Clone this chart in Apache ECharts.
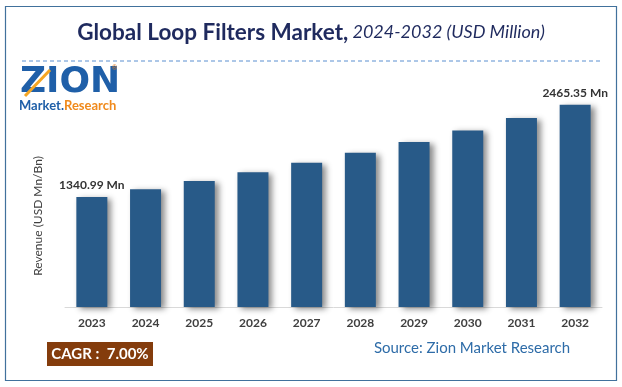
<!DOCTYPE html>
<html><head><meta charset="utf-8">
<script src="https://cdn.jsdelivr.net/npm/echarts@6/dist/echarts.min.js"></script>
<style>html,body{margin:0;padding:0;background:#fff}#c{width:622px;height:387px}</style>
</head><body><div id="c"></div>
<script>
const years = ['2023','2024','2025','2026','2027','2028','2029','2030','2031','2032'];
const revenue = [1340.99, 1434.86, 1535.30, 1642.77, 1757.77, 1880.81, 2012.47, 2153.34, 2304.07, 2465.35];
const labelledIdx = [0, 9];
const titleMain = 'Global Loop Filters Market,';
const titleSub = ' 2024-2032 (USD Million)';
const yAxisName = 'Revenue (USD Mn/Bn)';
const cagrText = 'CAGR :  7.00%';
const sourceText = 'Source: Zion Market Research';

const F = 'Lato, "Open Sans", sans-serif';
const chart = echarts.init(document.getElementById('c'), null, {renderer:'canvas'});
chart.setOption({
  animation: false,
  backgroundColor: '#fff',
  grid: {left: 65, right: 20, top: 61, bottom: 80},
  xAxis: {
    type: 'category', data: years,
    axisLine: {lineStyle: {color: '#d9d9d9', width: 1}},
    axisTick: {show: false},
    axisLabel: {color: '#404040', fontWeight: 'bold', fontSize: 12, fontFamily: F, margin: 10}
  },
  yAxis: {type: 'value', min: 0, max: 3000, show: false, splitLine: {show: false}},
  series: [{
    type: 'bar', barWidth: 31,
    data: revenue.map((v, i) => ({
      value: v,
      label: {show: labelledIdx.includes(i)}
    })),
    itemStyle: {color: '#285a88', shadowColor: 'rgba(0,0,0,0.45)', shadowBlur: 6, shadowOffsetX: 4, shadowOffsetY: 2},
    label: {position: 'top', distance: 6, color: '#333', fontWeight: 'bold', fontSize: 12, fontFamily: F,
      formatter: p => p.value.toFixed(2) + ' Mn'}
  }],
  graphic: [
    {type: 'rect', shape: {x: 5.5, y: 6.5, width: 611, height: 374}, style: {fill: 'none', stroke: '#41719c', lineWidth: 1.2}, z: 0},
    {type: 'text', left: 'center', top: 21, style: {
      rich: {
        a: {fontSize: 22.5, fontWeight: 'bold', fill: '#1f2a5e', fontFamily: F},
        b: {fontSize: 18, fontStyle: 'italic', fill: '#1f2a5e', fontFamily: F}
      },
      text: '{a|' + titleMain + '}{b|' + titleSub + '}'
    }},
    {type: 'line', shape: {x1: 22, y1: 61, x2: 600, y2: 61}, style: {stroke: '#5b8fd0', lineWidth: 1, lineDash: [4, 3]}},
    {type: 'text', x: 20, y: 65, style: {text: 'ZION', fontSize: 36, fontWeight: 900, fill: '#1f5fa8', fontFamily: '"DejaVu Sans", sans-serif', letterSpacing: -3}},
    {type: 'line', shape: {x1: 25, y1: 96, x2: 50, y2: 70}, style: {stroke: '#f5a623', lineWidth: 3}},
    {type: 'text', x: 112, y: 65, style: {text: '®', fontSize: 7, fill: '#e07b20'}},
    {type: 'text', x: 19, y: 99, style: {
      rich: {
        m: {fontSize: 13, fontWeight: 'bold', fill: '#1f5fa8', fontFamily: F},
        r: {fontSize: 13, fontWeight: 'bold', fill: '#f08a1c', fontFamily: F}
      },
      text: '{m|Market.}{r|Research}'
    }},
    {type: 'text', x: 38, y: 216, rotation: Math.PI / 2, style: {text: yAxisName, fontSize: 12, fill: '#404040', fontFamily: F, align: 'center', verticalAlign: 'middle'}},
    {type: 'rect', shape: {x: 47, y: 342, width: 106, height: 24}, style: {fill: '#843c0c'}},
    {type: 'text', x: 100, y: 354, style: {text: cagrText, fontSize: 15, fontWeight: 'bold', fill: '#fff', fontFamily: F, align: 'center', verticalAlign: 'middle'}},
    {type: 'text', x: 472, y: 348, style: {text: sourceText, fontSize: 15, fill: '#2e6ca8', fontFamily: F, align: 'center', verticalAlign: 'middle'}}
  ]
});
</script></body></html>
